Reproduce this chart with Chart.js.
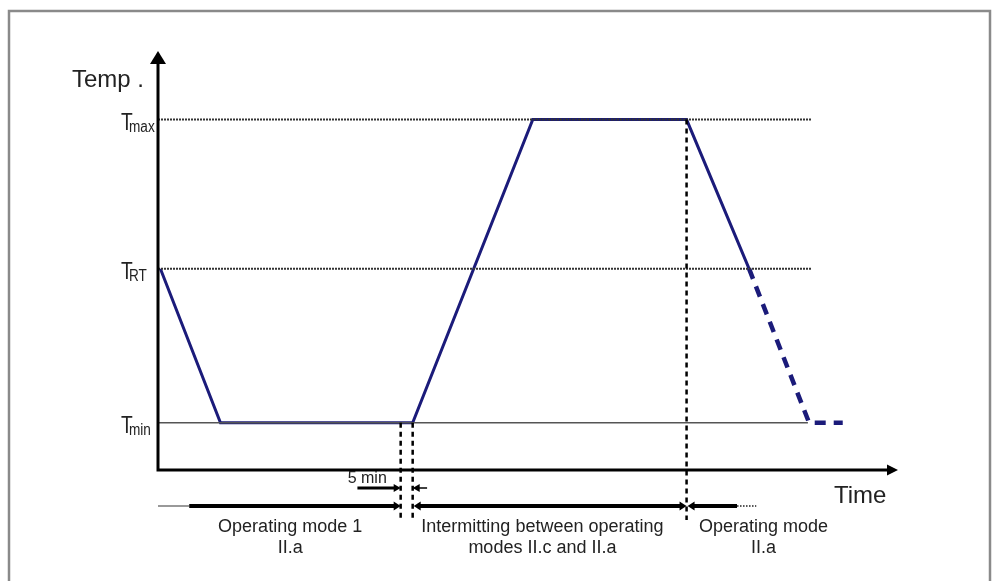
<!DOCTYPE html>
<html lang="en">
<head>
<meta charset="utf-8">
<script src="https://cdn.jsdelivr.net/npm/chart.js@4.4.1/dist/chart.umd.min.js"></script>
<style type="text/css">
    body { margin: 0; background: #fff; }
    #wrap { width: 994px; height: 581px; }
</style>
</head>
<body>
<div id="wrap"><canvas id="myChart" width="994" height="581"></canvas></div>
<script>
// time in minutes, temperature in degC (schematic)
var profileTime = [1, 26, 106, 156, 220, 246];
var profileTemp = [22, -40, -40, 82, 82, 22];
var outlookTime = [246, 271, 285];
var outlookTemp = [22, -40, -40];

var levelNames = ["max", "RT", "min"];
var levelTemp = [82, 22, -40];
var levelEnd = [272, 272, 270.5];

var switchTime = [101, 106, 220];
var switchTemp = [-40, -40, 82];

var modeNames = [["Operating mode 1", "II.a"],
                 ["Intermitting between operating", "modes II.c and II.a"],
                 ["Operating mode", "II.a"]];
var modeCentre = [55, 160, 252];
var modeSpans = [[13, 101], [106, 220], [220, 241]];
var leadIn = [0, 13];
var tailOut = [241, 249];
var gapArrow = [83, 112];

var FONT = '"Liberation Sans", Arial, sans-serif';

function pts(xs, ys) {
    return xs.map(function (v, i) { return { x: v, y: ys[i] }; });
}

function arrowHead(ctx, tx, ty, dir, len, half) {
    // dir: 'r', 'l', 'u'
    ctx.beginPath();
    if (dir === 'r') { ctx.moveTo(tx, ty); ctx.lineTo(tx - len, ty - half); ctx.lineTo(tx - len, ty + half); }
    if (dir === 'l') { ctx.moveTo(tx, ty); ctx.lineTo(tx + len, ty - half); ctx.lineTo(tx + len, ty + half); }
    if (dir === 'u') { ctx.moveTo(tx, ty); ctx.lineTo(tx - half, ty + len); ctx.lineTo(tx + half, ty + len); }
    ctx.closePath();
    ctx.fill();
}

var diagram = {
    id: 'diagram',
    beforeDraw: function (chart) {
        var ctx = chart.ctx;
        ctx.save();
        ctx.strokeStyle = '#8a8a8a';
        ctx.lineWidth = 2.5;
        ctx.strokeRect(9, 11, 981, 640);
        ctx.restore();
    },
    afterDatasetsDraw: function (chart) {
        var ctx = chart.ctx, a = chart.chartArea;
        var xs = chart.scales.x, ys = chart.scales.y;
        var X = function (v) { return xs.getPixelForValue(v); };
        var Y = function (v) { return ys.getPixelForValue(v); };
        ctx.save();
        ctx.fillStyle = '#000';
        ctx.strokeStyle = '#000';

        // switch markers
        ctx.lineWidth = 2.5;
        ctx.setLineDash([5, 4]);
        switchTime.forEach(function (t, i) {
            ctx.beginPath();
            ctx.moveTo(X(t), Y(switchTemp[i]));
            ctx.lineTo(X(t), a.bottom + 50);
            ctx.stroke();
        });
        ctx.setLineDash([]);

        // axes
        ctx.lineWidth = 3;
        ctx.beginPath();
        ctx.moveTo(a.left, a.bottom + 1.5);
        ctx.lineTo(a.left, a.top + 16);
        ctx.moveTo(a.left - 1.5, a.bottom);
        ctx.lineTo(a.right - 9, a.bottom);
        ctx.stroke();
        arrowHead(ctx, a.left, a.top + 6, 'u', 13, 8);
        arrowHead(ctx, a.right, a.bottom, 'r', 11, 5.5);

        // axis titles
        ctx.fillStyle = '#222';
        ctx.font = '24px ' + FONT;
        ctx.textBaseline = 'alphabetic';
        ctx.textAlign = 'left';
        ctx.fillText('Temp .', a.left - 86, a.top + 42);
        ctx.fillText('Time', a.right - 64, a.bottom + 33);

        // level labels T with subscript
        levelNames.forEach(function (s, i) {
            var py = Y(levelTemp[i]);
            ctx.save();
            ctx.translate(121, py + 10);
            ctx.scale(0.8, 1);
            ctx.font = '24px ' + FONT;
            ctx.fillText('T', 0, 0);
            ctx.restore();
            ctx.save();
            ctx.translate(129, py + 12);
            ctx.scale(0.85, 1);
            ctx.font = '16px ' + FONT;
            ctx.fillText(s, 0, 0);
            ctx.restore();
        });

        // 5 min dimension
        ctx.font = '16px ' + FONT;
        ctx.fillText('5 min', X(switchTime[0]) - 53, a.bottom + 13);
        var dy = a.bottom + 18;
        ctx.fillStyle = '#000';
        ctx.lineWidth = 3;
        ctx.beginPath();
        ctx.moveTo(X(gapArrow[0]), dy);
        ctx.lineTo(X(switchTime[0]) - 5, dy);
        ctx.stroke();
        arrowHead(ctx, X(switchTime[0]), dy, 'r', 7, 4);
        ctx.lineWidth = 1.5;
        ctx.beginPath();
        ctx.moveTo(X(gapArrow[1]), dy);
        ctx.lineTo(X(switchTime[1]) + 5, dy);
        ctx.stroke();
        arrowHead(ctx, X(switchTime[1]), dy, 'l', 7, 4);

        // mode time line
        var ty = a.bottom + 36;
        ctx.strokeStyle = '#777';
        ctx.lineWidth = 1.5;
        ctx.beginPath();
        ctx.moveTo(X(leadIn[0]), ty);
        ctx.lineTo(X(leadIn[1]), ty);
        ctx.stroke();
        ctx.strokeStyle = '#000';
        ctx.lineWidth = 4;
        modeSpans.forEach(function (s) {
            ctx.beginPath();
            ctx.moveTo(X(s[0]) + (s[0] > leadIn[1] ? 6 : 0), ty);
            ctx.lineTo(X(s[1]) - 6, ty);
            ctx.stroke();
            if (s[0] > leadIn[1]) arrowHead(ctx, X(s[0]) + 1, ty, 'l', 7, 4.5);
            if (s[1] !== modeSpans[modeSpans.length - 1][1]) arrowHead(ctx, X(s[1]), ty, 'r', 7, 4.5);
        });
        var last = modeSpans[modeSpans.length - 1][1];
        ctx.beginPath();
        ctx.moveTo(X(last) - 7, ty);
        ctx.lineTo(X(last), ty);
        ctx.stroke();
        ctx.strokeStyle = '#555';
        ctx.lineWidth = 2;
        ctx.setLineDash([1.5, 1.5]);
        ctx.beginPath();
        ctx.moveTo(X(tailOut[0]), ty);
        ctx.lineTo(X(tailOut[1]), ty);
        ctx.stroke();
        ctx.setLineDash([]);

        // mode names
        ctx.fillStyle = '#222';
        ctx.font = '18px ' + FONT;
        ctx.textAlign = 'center';
        modeNames.forEach(function (lines, i) {
            lines.forEach(function (l, j) {
                ctx.fillText(l, X(modeCentre[i]), a.bottom + 62 + j * 21);
            });
        });
        ctx.restore();
    }
};

var levelSets = levelNames.map(function (n, i) {
    var solid = i === levelNames.length - 1;
    return {
        label: 'T' + n,
        data: pts([0, levelEnd[i]], [levelTemp[i], levelTemp[i]]),
        borderColor: solid ? '#555' : '#333',
        borderWidth: solid ? 1.5 : 2,
        borderDash: solid ? [] : [2, 1],
        clip: false
    };
});

var ctx = document.getElementById("myChart").getContext("2d");
var chart = new Chart(ctx, {
    type: 'line',
    data: {
        datasets: levelSets.concat([
            {
                label: 'profile',
                data: pts(profileTime, profileTemp),
                borderColor: '#1b1b7a',
                borderWidth: 3,
                borderJoinStyle: 'miter',
                clip: false
            },
            {
                label: 'outlook',
                data: pts(outlookTime, outlookTemp),
                borderColor: '#1b1b7a',
                borderWidth: 4.5,
                borderDash: [11, 8],
                borderJoinStyle: 'miter',
                clip: false
            }
        ])
    },
    options: {
        responsive: false,
        animation: false,
        events: [],
        layout: { padding: { left: 158, right: 96, top: 45, bottom: 111 } },
        elements: { point: { radius: 0 }, line: { tension: 0, fill: false } },
        scales: {
            x: { type: 'linear', min: 0, max: 308, display: false },
            y: { type: 'linear', min: -59, max: 112, display: false }
        },
        plugins: { legend: { display: false }, tooltip: { enabled: false } }
    },
    plugins: [diagram]
});
</script>
</body>
</html>
